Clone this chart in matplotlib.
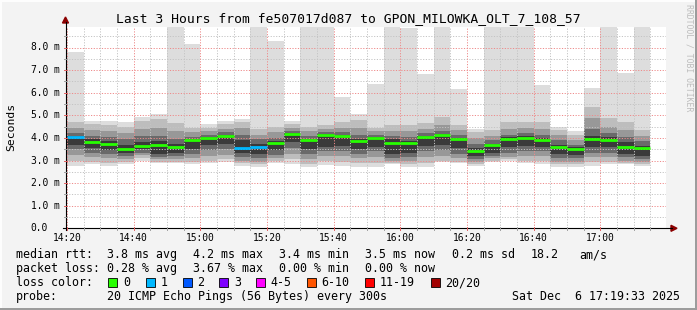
import matplotlib
matplotlib.use("Agg")
import matplotlib.pyplot as plt
from matplotlib.patches import Rectangle, Polygon
from matplotlib.lines import Line2D
import numpy as np

plt.rcParams['font.family'] = 'DejaVu Sans Mono'

# 5 minute rounds (start time of each bar)
bar_times = ["14:20", "14:25", "14:30", "14:35", "14:40", "14:45", "14:50", "14:55",
             "15:00", "15:05", "15:10", "15:15", "15:20", "15:25", "15:30", "15:35",
             "15:40", "15:45", "15:50", "15:55", "16:00", "16:05", "16:10", "16:15",
             "16:20", "16:25", "16:30", "16:35", "16:40", "16:45", "16:50", "16:55",
             "17:00", "17:05", "17:10"]

# smoke: outer band (min..max) down to inner band, values in ms
ping_max = [7.80, 4.75, 4.75, 4.70, 4.94, 5.06, 9.50, 8.14, 4.61, 4.75, 4.85, 9.50,
            8.29, 4.75, 9.50, 9.50, 5.82, 5.04, 6.37, 9.50, 8.85, 6.81, 9.50, 6.16,
            4.39, 9.50, 9.50, 9.50, 6.34, 4.50, 4.30, 6.19, 9.50, 6.89, 9.50]
hi2 = [4.72, 4.60, 4.55, 4.50, 4.75, 4.85, 4.65, 4.45, 4.45, 4.60, 4.70, 4.40,
       4.50, 4.60, 4.50, 4.55, 4.72, 4.80, 4.43, 4.55, 4.55, 4.65, 4.91, 4.58,
       4.25, 4.37, 4.72, 4.72, 4.72, 4.35, 4.15, 5.35, 4.87, 4.72, 4.35]
hi3 = [4.45, 4.35, 4.30, 4.20, 4.40, 4.45, 4.30, 4.25, 4.30, 4.40, 4.45, 4.15,
       4.25, 4.45, 4.30, 4.40, 4.45, 4.45, 4.30, 4.30, 4.30, 4.40, 4.55, 4.35,
       4.00, 4.10, 4.40, 4.45, 4.40, 4.15, 3.90, 4.90, 4.50, 4.35, 4.10]
hi4 = [4.20, 4.10, 4.05, 3.95, 4.10, 4.10, 3.95, 4.05, 4.15, 4.25, 4.15, 3.95,
       4.00, 4.30, 4.10, 4.25, 4.25, 4.15, 4.15, 4.10, 4.05, 4.20, 4.30, 4.15,
       3.75, 3.90, 4.15, 4.20, 4.15, 3.90, 3.70, 4.40, 4.20, 4.05, 3.85]
hi5 = [4.08, 3.95, 3.85, 3.70, 3.80, 3.85, 3.75, 3.97, 4.05, 4.15, 3.90, 3.75,
       3.85, 4.22, 3.97, 4.18, 4.15, 3.95, 4.05, 3.95, 3.85, 4.10, 4.18, 4.00,
       3.55, 3.75, 4.02, 4.08, 4.00, 3.70, 3.60, 4.10, 4.02, 3.80, 3.65]
lo5 = [3.68, 3.55, 3.45, 3.35, 3.50, 3.30, 3.35, 3.50, 3.70, 3.75, 3.35, 3.30,
       3.45, 3.80, 3.50, 3.60, 3.65, 3.50, 3.60, 3.30, 3.35, 3.65, 3.70, 3.55,
       3.20, 3.35, 3.60, 3.65, 3.60, 3.30, 3.25, 3.60, 3.60, 3.30, 3.20]
lo4 = [3.50, 3.35, 3.30, 3.20, 3.35, 3.15, 3.20, 3.30, 3.45, 3.50, 3.15, 3.10,
       3.25, 3.55, 3.30, 3.40, 3.40, 3.30, 3.40, 3.10, 3.15, 3.40, 3.45, 3.30,
       3.05, 3.20, 3.35, 3.40, 3.40, 3.10, 3.10, 3.35, 3.35, 3.15, 3.05]
lo3 = [3.25, 3.15, 3.10, 3.05, 3.25, 3.05, 3.05, 3.10, 3.20, 3.25, 3.00, 2.95,
       3.10, 3.30, 3.05, 3.20, 3.20, 3.10, 3.15, 3.00, 3.00, 3.15, 3.20, 3.10,
       2.95, 3.10, 3.15, 3.20, 3.20, 2.95, 2.95, 3.15, 3.15, 3.00, 2.95]
lo2 = [3.00, 2.95, 2.90, 2.95, 3.10, 2.95, 2.95, 2.95, 3.00, 3.05, 2.90, 2.85,
       3.00, 3.05, 2.85, 3.00, 2.95, 2.90, 2.90, 2.90, 2.85, 2.90, 3.00, 2.95,
       2.85, 3.00, 3.05, 3.00, 3.00, 2.85, 2.85, 2.95, 2.95, 2.90, 2.85]
ping_min = [2.77, 2.83, 2.77, 2.84, 3.00, 2.87, 2.87, 2.84, 2.87, 2.92, 2.77, 2.72,
            2.90, 2.83, 2.70, 2.80, 2.77, 2.73, 2.73, 2.84, 2.73, 2.73, 2.92, 2.87,
            2.77, 2.92, 2.97, 2.88, 2.84, 2.73, 2.73, 2.77, 2.84, 2.84, 2.77]
median = [4.04, 3.83, 3.71, 3.51, 3.64, 3.67, 3.61, 3.92, 4.01, 4.10, 3.57, 3.58,
          3.76, 4.17, 3.89, 4.13, 4.10, 3.85, 4.00, 3.76, 3.76, 4.06, 4.13, 3.94,
          3.41, 3.67, 3.94, 4.00, 3.92, 3.58, 3.50, 3.95, 3.92, 3.58, 3.57]
lost = [1, 0, 0, 0, 0, 0, 0, 0, 0, 0, 1, 1, 0, 0, 0, 0, 0, 0, 0, 0, 0, 0, 0, 0,
        0, 0, 0, 0, 0, 0, 0, 0, 0, 0, 0]

loss_names = ["0", "1", "2", "3", "4-5", "6-10", "11-19", "20/20"]
loss_colors = ["#26ff00", "#00b8ff", "#0059ff", "#7e00ff", "#ff00ff", "#ff5500", "#ff0000", "#a10000"]

x_labels = ["14:20", "14:40", "15:00", "15:20", "15:40", "16:00", "16:20", "16:40", "17:00"]
y_labels = ["0.0", "1.0 m", "2.0 m", "3.0 m", "4.0 m", "5.0 m", "6.0 m", "7.0 m", "8.0 m"]


def to_min(s):
    h, m = s.split(":")
    return (int(h) - 14) * 60 + int(m)


W, H = 697, 310
fig = plt.figure(figsize=(W / 100, H / 100), dpi=100, facecolor="#f3f3f3")


def fx(px):
    return px / W


def fy(py):
    return 1 - py / H


X0, X1 = 65.5, 665.5
Y0, Y1 = 228.3, 27.0
PXMS = 22.6
t_start, t_end = 19.55, 199.55

ax = fig.add_axes([fx(X0), fy(Y0), (X1 - X0) / W, (Y0 - Y1) / H])
ax.set_facecolor("white")
ax.set_xlim(t_start, t_end)
ax.set_ylim(0, (Y0 - Y1) / PXMS)
for s in ax.spines.values():
    s.set_visible(False)
ax.set_xticks([])
ax.set_yticks([])

# smoke
t = np.array([to_min(s) for s in bar_times], dtype=float)
edges = np.append(t, t[-1] + 5)
bands = [(ping_min, ping_max), (lo2, hi2), (lo3, hi3), (lo4, hi4), (lo5, hi5)]
greys = ["#dddddd", "#bdbdbd", "#989898", "#6a6a6a", "#3a3a3a"]
for (lo, hi), c in zip(bands, greys):
    lo = np.append(lo, lo[-1])
    hi = np.append(hi, hi[-1])
    ax.fill_between(edges, lo, hi, step="post", color=c, linewidth=0, zorder=1)

# grid on top of smoke
ymax = (Y0 - Y1) / PXMS
for v in np.arange(0.5, ymax, 0.5):
    major = abs(v - round(v)) < 1e-6
    ax.axhline(v, color="#ee8a8a" if major else "#c4c4c4", lw=0.7,
               ls=(0, (1.2, 1.6)), zorder=2)
for m in range(20, 200, 5):
    major = m % 20 == 0
    ax.axvline(m, color="#ee8a8a" if major else "#c4c4c4", lw=0.7,
               ls=(0, (1.2, 1.6)), zorder=2)

# median line coloured by loss
ax.hlines(median, t, t + 5, colors=[loss_colors[l] for l in lost], linewidth=2.0, zorder=4)


def px_x(m):
    return X0 + (m - t_start) / (t_end - t_start) * (X1 - X0)


# axes lines and arrows
fig.add_artist(Line2D([fx(X0), fx(X0)], [fy(Y0 + 2), fy(22)], color="black", lw=0.8))
fig.add_artist(Line2D([fx(X0 - 3), fx(672)], [fy(Y0), fy(Y0)], color="black", lw=0.8))
fig.add_artist(Polygon([[fx(X0 - 3), fy(23)], [fx(X0 + 3), fy(23)], [fx(X0), fy(17)]],
                       closed=True, color="#8b0000"))
fig.add_artist(Polygon([[fx(671), fy(Y0 - 3)], [fx(671), fy(Y0 + 3)], [fx(677), fy(Y0)]],
                       closed=True, color="#8b0000"))

# tick marks
for m in range(20, 200, 5):
    major = m % 20 == 0
    xp = px_x(m)
    fig.add_artist(Line2D([fx(xp), fx(xp)], [fy(Y0 - 1), fy(Y0 + 2)],
                          color="#e06060" if major else "#a0a0a0", lw=0.7))
for v in np.arange(0.5, ymax, 0.5):
    yp = Y0 - v * PXMS
    major = abs(v - round(v)) < 1e-6
    fig.add_artist(Line2D([fx(X0 - 2), fx(X0 + 1)], [fy(yp), fy(yp)],
                          color="#e06060" if major else "#a0a0a0", lw=0.7))

# tick labels
for i, lab in enumerate(x_labels):
    xp = px_x(to_min(lab))
    fig.text(fx(xp), fy(238), lab, ha="center", va="center", fontsize=6.9, color="black")
for i, lab in enumerate(y_labels):
    yp = Y0 - i * PXMS
    fig.text(fx(30.5), fy(yp), lab, ha="left", va="center", fontsize=6.9, color="black")

fig.text(fx(11), fy(127), "Seconds", rotation=90, ha="center", va="center", fontsize=8.2)
fig.text(fx(348), fy(19), "Last 3 Hours from fe507017d087 to GPON_MILOWKA_OLT_7_108_57",
         ha="center", va="center", fontsize=9.4)
fig.text(fx(689), fy(58), "RRDTOOL / TOBI OETIKER", rotation=-90, ha="center", va="center",
         fontsize=5.9, color="#bdbdbd")

# legend
fs = 8.4
row1 = [("median rtt:", 16), ("3.8 ms avg", 107), ("4.2 ms max", 193), ("3.4 ms min", 279),
        ("3.5 ms now", 365), ("0.2 ms sd", 451.5), ("18.2", 530.5), ("am/s", 579)]
row2 = [("packet loss:", 16), ("0.28 % avg", 107), ("3.67 % max", 193), ("0.00 % min", 279),
        ("0.00 % now", 365)]
for txt, xp in row1:
    fig.text(fx(xp), fy(254.5), txt, ha="left", va="center", fontsize=fs)
for txt, xp in row2:
    fig.text(fx(xp), fy(268.5), txt, ha="left", va="center", fontsize=fs)

fig.text(fx(16), fy(282.5), "loss color:", ha="left", va="center", fontsize=fs)
box_x = [108.3, 145.7, 182.7, 219.3, 256, 307, 365, 430.7]
for bx, name, c in zip(box_x, loss_names, loss_colors):
    fig.add_artist(Rectangle((fx(bx), fy(287)), 9 / W, 9 / H, facecolor=c,
                             edgecolor="black", lw=0.6))
    fig.text(fx(bx + 14.7), fy(282.5), name, ha="left", va="center", fontsize=fs)

fig.text(fx(16), fy(296.5), "probe:", ha="left", va="center", fontsize=fs)
fig.text(fx(107), fy(296.5), "20 ICMP Echo Pings (56 Bytes) every 300s", ha="left",
         va="center", fontsize=fs)
fig.text(fx(680), fy(296.5), "Sat Dec  6 17:19:33 2025", ha="right", va="center", fontsize=fs)

# shaded frame
fig.add_artist(Rectangle((0, fy(2)), 1, 2 / H, facecolor="#fdfdfd", lw=0))
fig.add_artist(Rectangle((0, 0), 2 / W, 1, facecolor="#fdfdfd", lw=0))
fig.add_artist(Rectangle((0, 0), 1, 2.5 / H, facecolor="#9c9c9c", lw=0))
fig.add_artist(Rectangle((fx(W - 2.5), 0), 2.5 / W, 1, facecolor="#9c9c9c", lw=0))

fig.savefig("out.png", dpi=100, facecolor=fig.get_facecolor())
